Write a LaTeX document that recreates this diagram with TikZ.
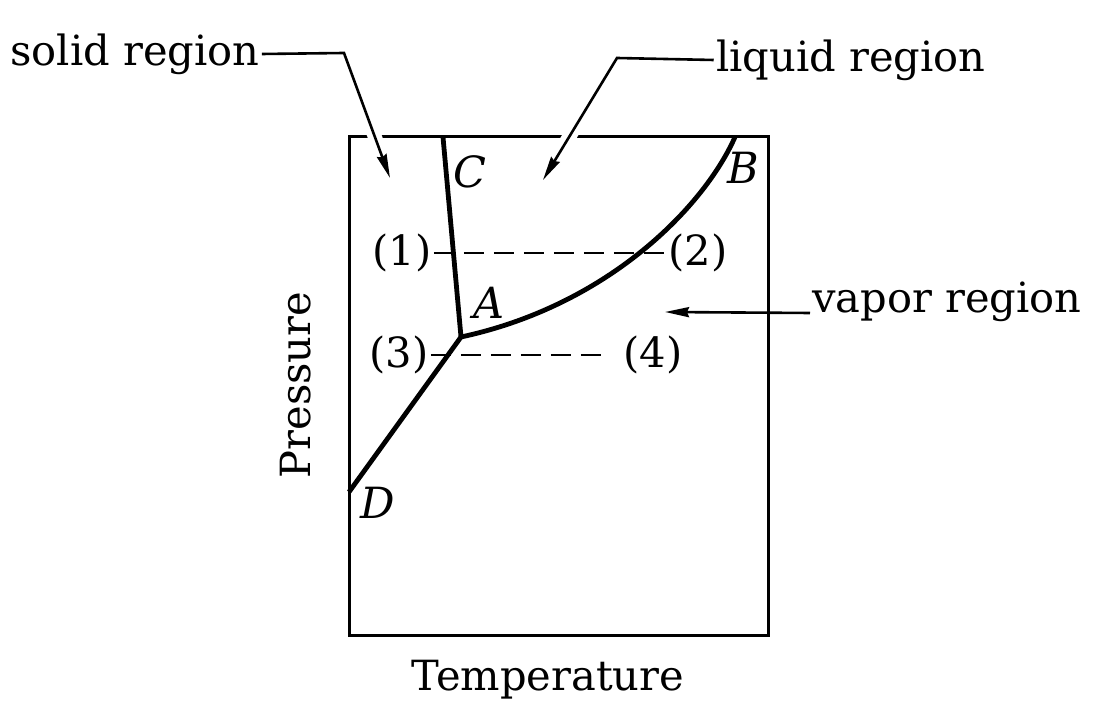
\documentclass[tikz,border=0pt]{standalone}
\usepackage{fontspec}
\setmainfont{DejaVu Serif}
\usetikzlibrary{arrows.meta}
\begin{document}
\begin{tikzpicture}[x=0.5pt,y=-0.5pt,
  frame/.style={line width=1.5pt},
  phaseline/.style={line width=2.4pt,line join=round},
  tieline/.style={line width=1.2pt,dash pattern=on 10pt off 5pt},
  leader/.style={line width=1.3pt,-{Stealth[length=12pt,width=5pt,inset=1pt]}},
  gapline/.style={draw=white,line width=7pt},
  txt/.style={font=\fontsize{20.8}{25}\selectfont,inner sep=1pt},
  pt/.style={txt,font=\fontsize{21.5}{25}\selectfont\itshape}]
  \useasboundingbox (0,0) rectangle (1100,715);
  % Frame
  \draw[frame] (349,137) rectangle (768,636);
  % Phase points
  \coordinate (A) at (461,337);
  \coordinate (B) at (735,137);
  \coordinate (C) at (443,137);
  \coordinate (D) at (349,492);
  % Phase boundaries
  \draw[phaseline] (C) -- (A);
  \draw[phaseline] (D) -- (A);
  \draw[phaseline] (A) .. controls (610,305) and (705,205) .. (B);
  % Point labels
  \node[pt] (lA) at (489,303) {A};
  \node[pt] (lB) at (743,168) {B};
  \node[pt] (lC) at (470,172) {C};
  \node[pt] (lD) at (378,503) {D};
  % Tie lines
  \node[txt] (p1) at (402,253) {(1)};
  \node[txt] (p2) at (698,253) {(2)};
  \node[txt] (p3) at (399,355) {(3)};
  \node[txt] (p4) at (653,355) {(4)};
  \draw[tieline] (p1.east) -- (p2.west);
  \draw[tieline] (p3.east) -- ([xshift=-7pt]p4.west);
  % Region labels
  \node[txt,anchor=west] (solid) at (8,54) {solid region};
  \node[txt,anchor=east] (liquid) at (988,60) {liquid region};
  \node[txt,anchor=base west] (vapor) at (810,313) {vapor region};
  \coordinate (solidbend) at (344,53);
  \coordinate (solidtip) at (390,178);
  \coordinate (liquidbend) at (617,58);
  \coordinate (liquidtip) at (543,180);
  \coordinate (vaportip) at (665,312);
  \draw[gapline] (solidbend) -- (solidtip);
  \draw[gapline] (liquidbend) -- (liquidtip);
  \draw[leader] (solid.east) -- (solidbend) -- (solidtip);
  \draw[leader] (liquid.west) -- (liquidbend) -- (liquidtip);
  \draw[leader] (vapor.base west) -- (vaportip);
  % Axis labels
  \node[txt,rotate=90] (pres) at (296,385) {Pressure};
  \node[txt] (temp) at (548,680) {Temperature};
\end{tikzpicture}
\end{document}
